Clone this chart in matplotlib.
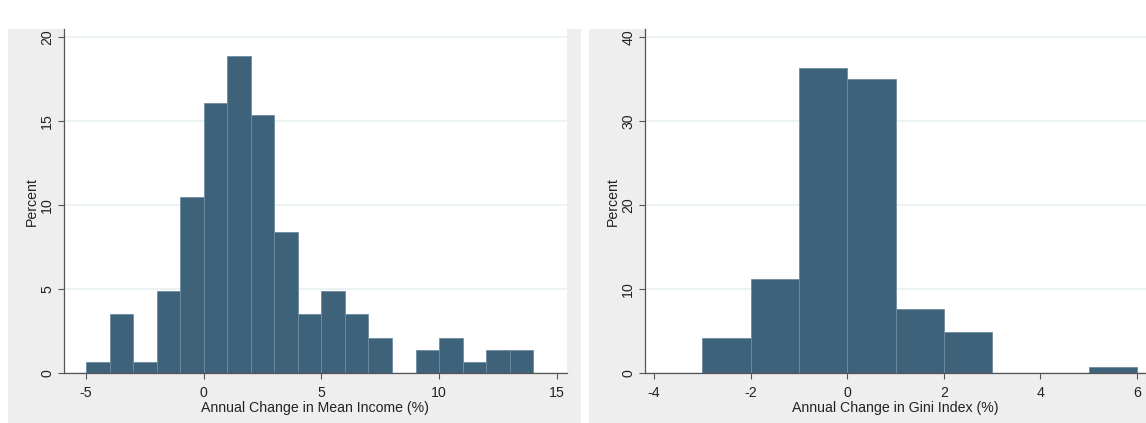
import numpy as np
import matplotlib.pyplot as plt
from matplotlib.patches import Rectangle

# Histogram data: left bin edges (width 1) and share of observations (%)
income_bins = [-5, -4, -3, -2, -1, 0, 1, 2, 3, 4, 5, 6, 7, 8, 9, 10, 11, 12, 13]
income_pct = [0.7, 3.5, 0.7, 4.9, 10.5, 16.1, 18.9, 15.4, 8.4, 3.5,
              4.9, 3.5, 2.1, 0.0, 1.4, 2.1, 0.7, 1.4, 1.4]

gini_bins = [-3, -2, -1, 0, 1, 2, 3, 4, 5]
gini_pct = [4.2, 11.2, 36.4, 35.0, 7.7, 4.9, 0.0, 0.0, 0.7]

income_xticks = [-5, 0, 5, 10, 15]
income_yticks = [0, 5, 10, 15, 20]
gini_xticks = [-4, -2, 0, 2, 4, 6]
gini_yticks = [0, 10, 20, 30, 40]

BAR = "#3f627b"
EDGE = "#6f8ca0"
PANEL = "#eeeeee"
GRID = "#e8f0f1"
INK = "#222222"

plt.rcParams["font.family"] = ["Liberation Sans", "DejaVu Sans"]
plt.rcParams["font.size"] = 10.2
plt.rcParams["axes.unicode_minus"] = False

W, H = 1146, 423
fig = plt.figure(figsize=(W / 100, H / 100), dpi=100)
fig.patch.set_facecolor("white")

# grey graph regions behind each panel (drawn under the axes)
for x0, x1 in [(8, 581), (589, W)]:
    fig.patches.append(Rectangle((x0 / W, 0), (x1 - x0) / W, (H - 29) / H,
                                 transform=fig.transFigure, facecolor=PANEL,
                                 edgecolor="none", zorder=-5))

ax1 = fig.add_axes([64 / W, (H - 373.3) / H, 502.7 / W, 344.3 / H])
ax2 = fig.add_axes([645 / W, (H - 373.3) / H, 501 / W, 344.3 / H])


def draw_hist(ax, lefts, pct, xticks, yticks, xlim, ylim, xlabel):
    ax.set_facecolor("white")
    ax.bar(lefts, pct, width=1, align="edge", color=BAR,
           edgecolor=EDGE, linewidth=0.6, zorder=2)
    ax.set_xlim(*xlim)
    ax.set_ylim(*ylim)
    ax.set_xticks(xticks)
    ax.set_yticks(yticks)
    ax.yaxis.grid(True, color=GRID, linewidth=1.2, zorder=0)
    ax.set_axisbelow(True)
    for s in ["top", "right"]:
        ax.spines[s].set_visible(False)
    for s in ["left", "bottom"]:
        ax.spines[s].set_color("#555555")
        ax.spines[s].set_linewidth(0.9)
    ax.tick_params(axis="both", direction="out", length=4, width=0.8,
                   color="#555555", labelcolor=INK)
    ax.tick_params(axis="x", pad=5)
    ax.tick_params(axis="y", pad=3)
    for lab in ax.get_yticklabels():
        lab.set_rotation(90)
        lab.set_va("center")
    ax.set_ylabel("Percent", color=INK, labelpad=1)
    ax.set_xlabel(xlabel, color=INK, labelpad=1)


draw_hist(ax1, income_bins, income_pct, income_xticks, income_yticks,
          (-5.935, 15.42), (0, 20.49), "Annual Change in Mean Income (%)")
draw_hist(ax2, gini_bins, gini_pct, gini_xticks, gini_yticks,
          (-4.19, 6.19), (0, 40.99), "Annual Change in Gini Index (%)")

fig.savefig("out.png", dpi=100, facecolor=fig.get_facecolor())
